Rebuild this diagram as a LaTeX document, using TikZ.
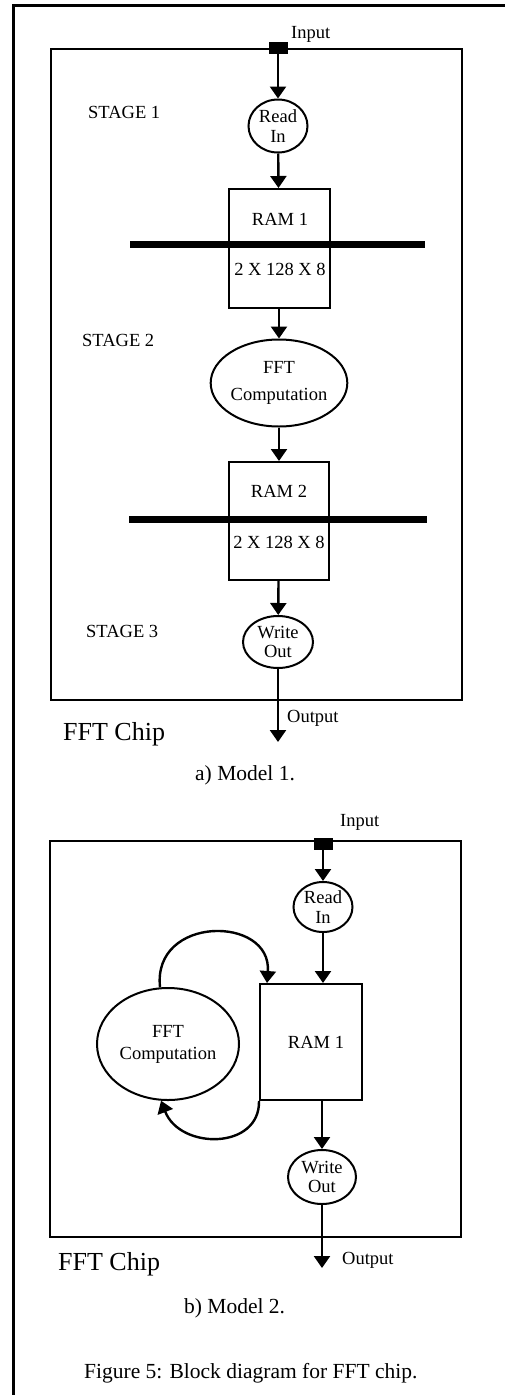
\documentclass[tikz,border=0pt]{standalone}
\usepackage{fontspec}
\setmainfont{Liberation Serif}
\usetikzlibrary{arrows.meta,shapes.geometric}
\tikzset{
  lbl/.style={font=\fontsize{18.5}{20}\selectfont,inner sep=0pt},
  big/.style={font=\fontsize{26}{28}\selectfont,inner sep=0pt},
  captxt/.style={font=\fontsize{21.5}{24}\selectfont,inner sep=0pt},
  blk/.style={draw,line width=2pt,inner sep=0pt},
  proc/.style={draw,ellipse,line width=2pt,lbl,align=center},
  pin/.style={fill,inner sep=0pt,minimum width=19pt,minimum height=12pt},
  flow/.style={line width=2.4pt,-{Triangle[width=16pt,length=12pt]}},
  bus/.style={line width=7pt},
  chip/.style={line width=2pt}
}
\begin{document}
\begin{tikzpicture}[x=1pt,y=-1pt]
 \useasboundingbox (0,0) rectangle (505,1395);
 \draw[line width=3pt] (13,1395)--(13,5)--(505,5);
 % model 1
 \draw[chip] (51,49) rectangle (462,700);
 \node[pin] (in1) at (278,48){};
 \node[lbl,anchor=base west] (tin1) at (291,38){Input};
 \node[lbl,anchor=base west] (st1) at (88,118){STAGE 1};
 \node[lbl,anchor=base west] (st2) at (82,346){STAGE 2};
 \node[lbl,anchor=base west] (st3) at (86,637){STAGE 3};
 \node[proc,minimum width=59pt,minimum height=53pt] (rd1) at (278,126){Read\\In};
 \node[blk,minimum width=101pt,minimum height=119pt] (ram1) at (279,248.5){};
 \node[lbl,anchor=base] (tram1) at (280,225){RAM 1};
 \node[lbl,anchor=base] (sz1) at (280,275){2 X 128 X 8};
 \node[proc,minimum width=130pt,minimum height=87pt] (fft1) at (279,383){FFT\\[7pt]Computation};
 \node[blk,minimum width=100pt,minimum height=118pt] (ram2) at (279,521){};
 \node[lbl,anchor=base] (tram2) at (279,497){RAM 2};
 \node[lbl,anchor=base] (sz2) at (279,548){2 X 128 X 8};
 \node[proc,minimum width=70pt,minimum height=52pt] (wr1) at (278,642){Write\\[-1pt]Out};
 \coordinate (out1) at (278,742);
 \draw[bus] (130,244)--(425,244);
 \draw[bus] (129,519)--(427,519);
 \draw[flow] (in1)--(rd1);
 \draw[flow] (rd1)--(ram1);
 \draw[flow] (ram1)--(fft1);
 \draw[flow] (fft1)--(ram2);
 \draw[flow] (ram2)--(wr1);
 \draw[flow] (wr1)--(out1);
 \node[lbl,anchor=base west] (tout1) at (287,722){Output};
 \node[big,anchor=base west] (chip1) at (63,740){FFT Chip};
 \node[captxt,anchor=base west] (ma) at (195,780){a) Model 1.};
 % model 2
 \draw[chip] (50,841) rectangle (461,1237);
 \node[pin] (in2) at (323,844){};
 \node[lbl,anchor=base west] (tin2) at (340,826){Input};
 \node[proc,minimum width=59pt,minimum height=50pt] (rd2) at (323,907){Read\\In};
 \node[blk,minimum width=102pt,minimum height=116pt] (ram3) at (311,1042){};
 \node[lbl,anchor=base] (tram3) at (316,1048){RAM 1};
 \node[proc,minimum width=142pt,minimum height=112pt] (fft2) at (168,1044){FFT\\[2pt]Computation};
 \node[proc,minimum width=68pt,minimum height=54pt] (wr2) at (322,1177){Write\\[-1pt]Out};
 \coordinate (out2) at (322,1268);
 \draw[flow] (in2)--(rd2);
 \draw[flow] (rd2)--(rd2 |- ram3.north);
 \draw[flow] (wr2 |- ram3.south)--(wr2);
 \draw[flow] (wr2)--(out2);
 \draw[flow] (fft2.98) .. controls (152,915) and (272,915) .. ([xshift=8pt]ram3.north west);
 \draw[flow] (ram3.south west) .. controls (260,1150) and (180,1150) .. (fft2.263);
 \node[lbl,anchor=base west] (tout2) at (342,1264){Output};
 \node[big,anchor=base west] (chip2) at (58,1270){FFT Chip};
 \node[captxt,anchor=base west] (mb) at (184,1313){b) Model 2.};
 \node[captxt,anchor=base west] (fig) at (84,1378){Figure 5: Block diagram for FFT chip.};
\end{tikzpicture}
\end{document}
